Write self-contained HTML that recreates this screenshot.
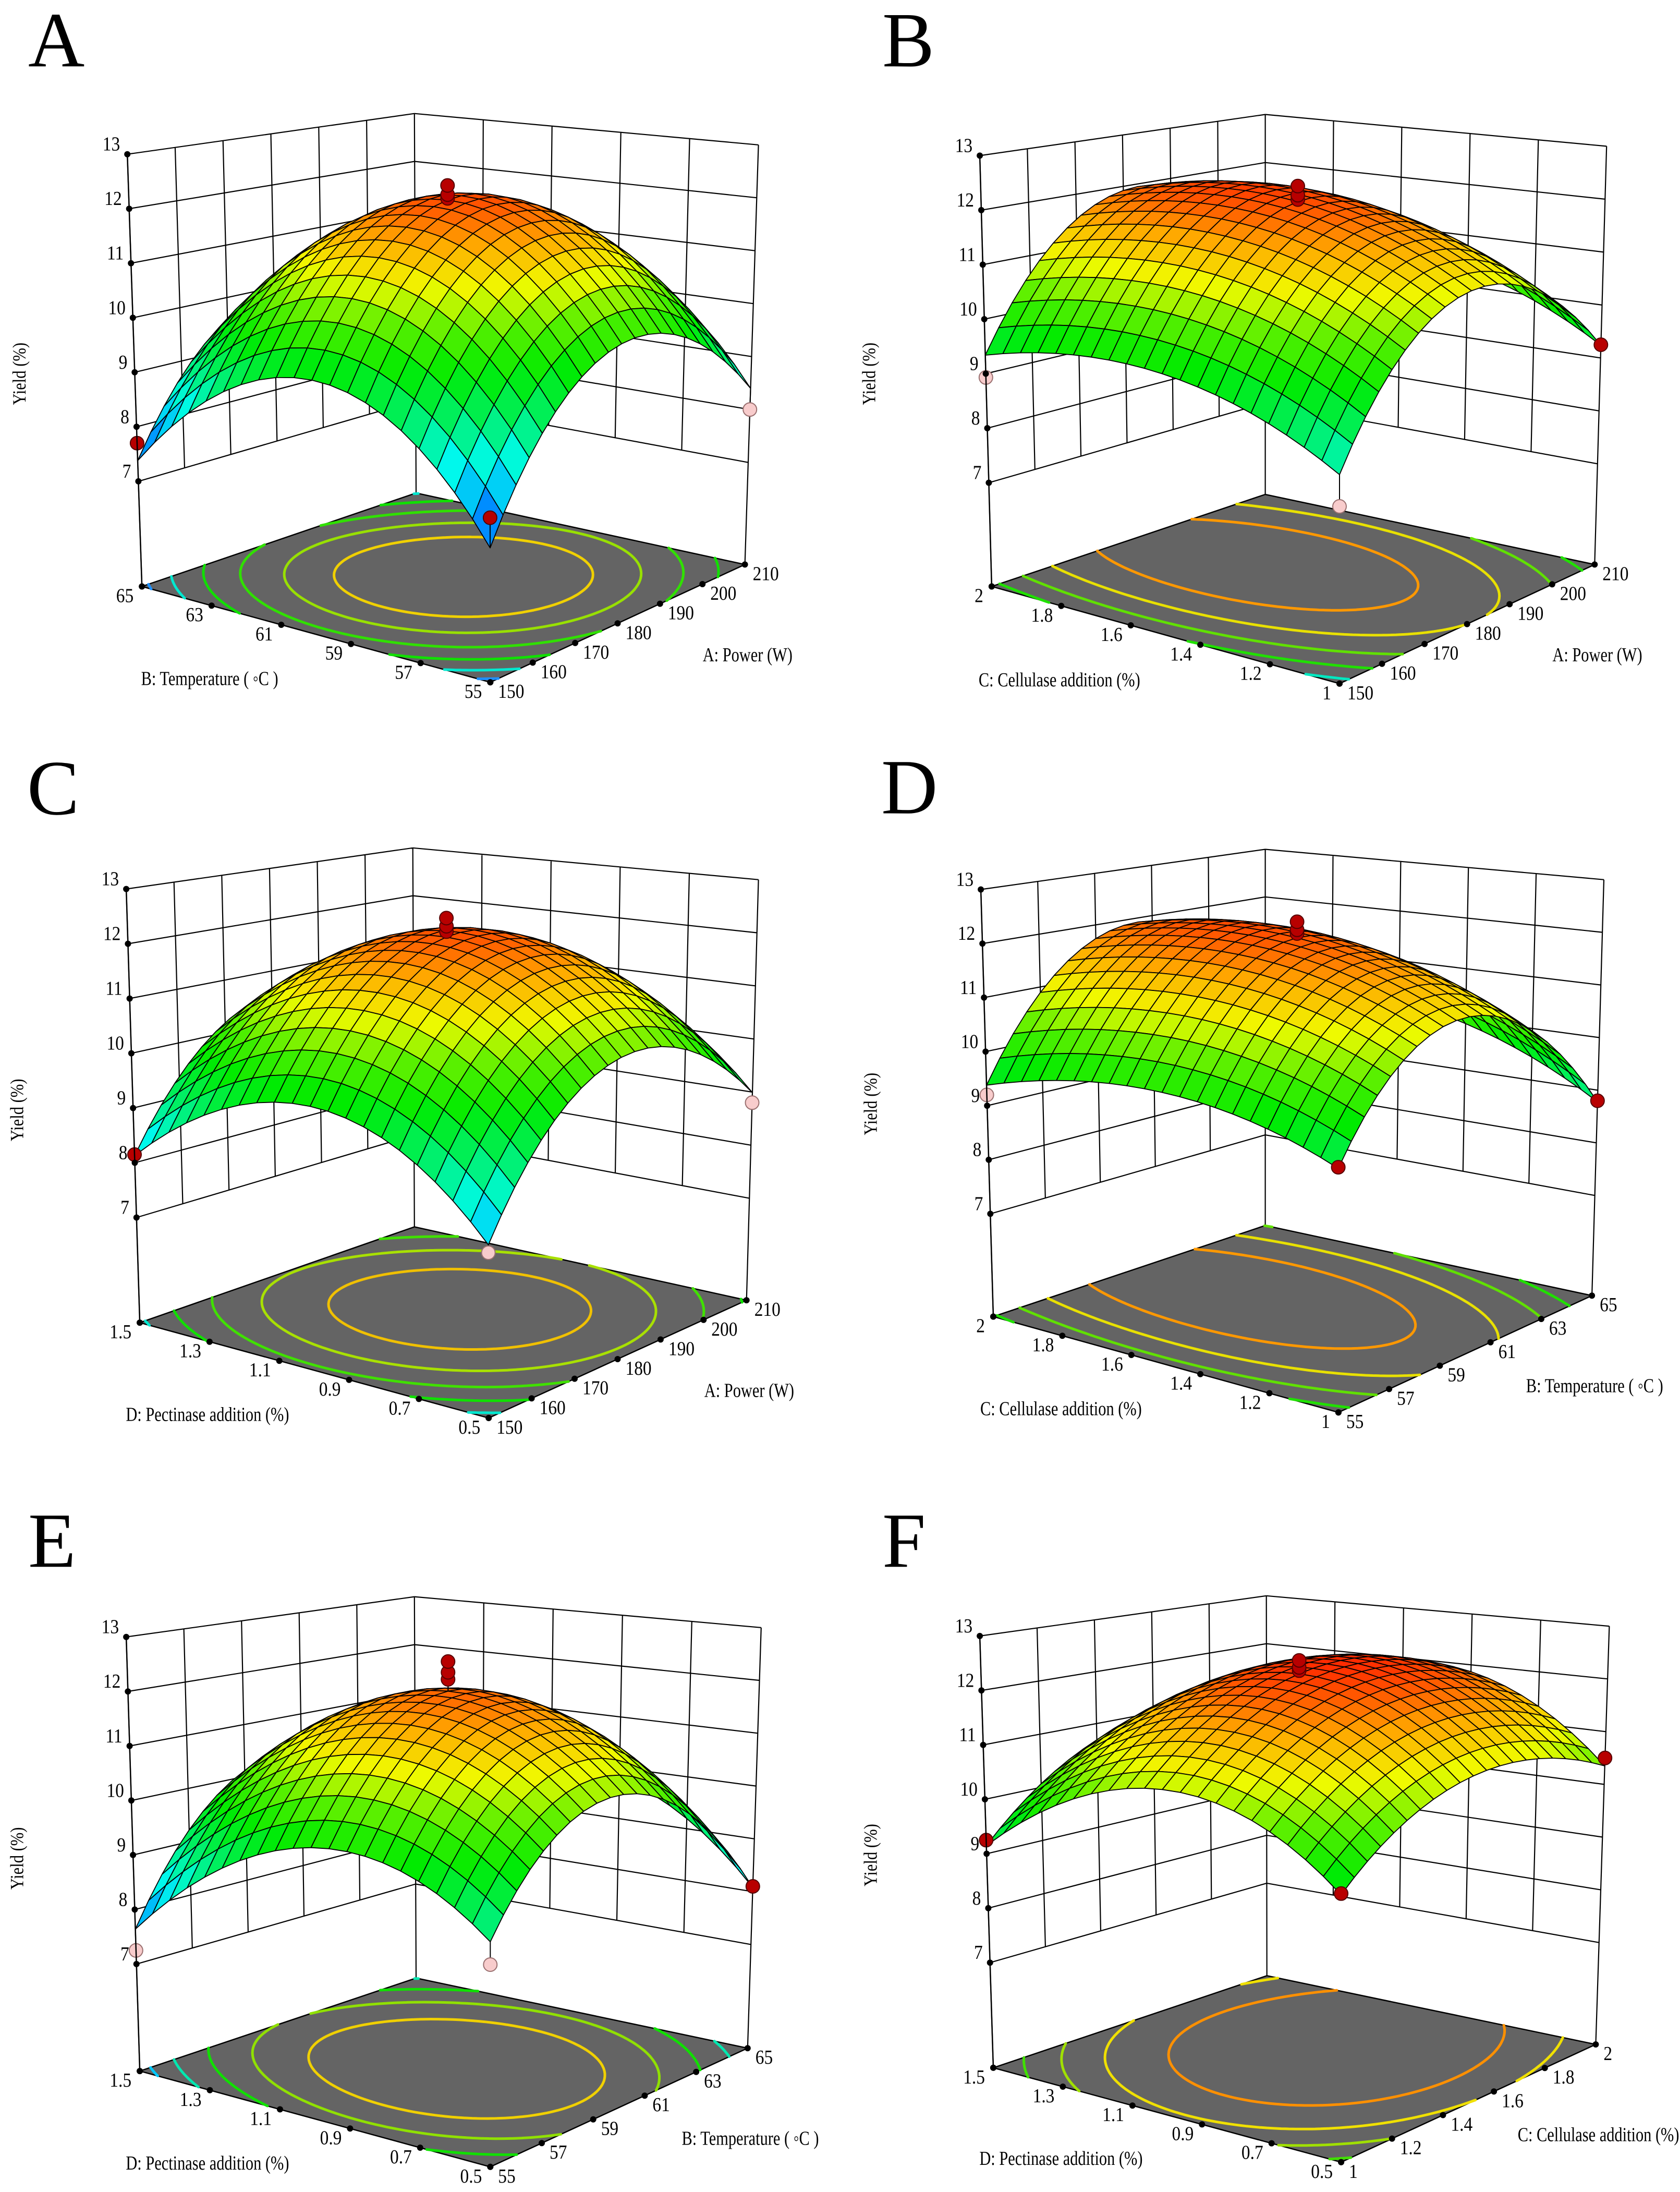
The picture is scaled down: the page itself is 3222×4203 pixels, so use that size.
<!DOCTYPE html>
<html><head><meta charset="utf-8">
<style>
html,body{margin:0;padding:0;background:#fff;}
svg{display:block;}
text{font-family:"Liberation Serif",serif;fill:#000;}
</style></head>
<body>
<svg id="chart" xmlns="http://www.w3.org/2000/svg" width="3222" height="4203" viewBox="0 0 3222 4203">
<rect x="0" y="0" width="3222" height="4203" fill="#fff"/>
</svg>
<script>
// ---- data (coded quadratic response-surface model: b0, bS, bT, bST, bSS, bTT) ----
const panelIds=['A','B','C','D','E','F'];
const coefA=[12.15,0.49,-0.02,-0.06,-2.16,-2.16];
const coefB=[12.16,0.41,0.46,0.08,-2.09,-0.70];
const coefC=[12.10,0.53,0.10,0.00,-1.92,-1.62];
const coefD=[12.10,0.10,0.40,0.30,-2.12,-0.60];
const coefE=[12.00,0.08,-0.14,0.43,-2.15,-1.56];
const coefF=[12.30,0.60,0.00,0.19,-0.94,-1.42];
const surfaceCoefs=[coefA,coefB,coefC,coefD,coefE,coefF];
const centerRuns=[[12.42,12.25,12.18],[12.45,12.28,12.2],[12.45,12.3,12.2],[12.4,12.25,12.18],[12.55,12.35,12.22],[12.55,12.42,12.36]];
const cornerRunsL=[7.7,8.93,8.15,9.2,7.25,9.25];
const cornerRunsF=[7.8,8.05,7.8,9.2,8.4,9.55];
const cornerRunsR=[8.0,9.25,8.8,8.8,8.1,10.5];
const zTicks=[7,8,9,10,11,12,13];
const sTickLabels=[['150','160','170','180','190','200','210'],['150','160','170','180','190','200','210'],['150','160','170','180','190','200','210'],['55','57','59','61','63','65'],['55','57','59','61','63','65'],['1','1.2','1.4','1.6','1.8','2']];
const tTickLabels=[['55','57','59','61','63','65'],['1','1.2','1.4','1.6','1.8','2'],['0.5','0.7','0.9','1.1','1.3','1.5'],['1','1.2','1.4','1.6','1.8','2'],['0.5','0.7','0.9','1.1','1.3','1.5'],['0.5','0.7','0.9','1.1','1.3','1.5']];
const sTitles=['A: Power (W)','A: Power (W)','A: Power (W)','B: Temperature ( \u25E6C )','B: Temperature ( \u25E6C )','C: Cellulase addition (%)'];
const tTitles=['B: Temperature ( \u25E6C )','C: Cellulase addition (%)','D: Pectinase addition (%)','C: Cellulase addition (%)','D: Pectinase addition (%)','D: Pectinase addition (%)'];
const contourLevels=[[7.6,8.3,9.1,9.9,10.7,11.4],[8.9,9.6,10.3,11.0,11.7],[8.3,9.1,9.9,10.7,11.5],[8.8,9.5,10.2,10.9,11.6],[8.0,8.7,9.5,10.3,11.1],[9.7,10.3,10.9,11.6]];

// ---- layout / style ----
const contourColors=[['#1e90ff','#00e8d0','#10e000','#30e000','#98e000','#f0d000'],['#00e8c0','#20e000','#60e000','#e8e000','#ff9800'],['#00e8d0','#10e000','#40e000','#a8e000','#f0c000'],['#00e8c0','#20e000','#60e000','#e8e000','#ff9800'],['#00c8ff','#00e8b0','#10e000','#90e000','#f0d000'],['#40e000','#a0e000','#f0e000','#ff9000']];
const KX=1.039, KY=0.896;
const geom=[
 {off:[0,0],Lf:[262,1255],Ff:[905,1460],Rf:[1375,1208],Bf:[768,1055],Lt:[235,330],Bt:[765,243],Rt:[1400,310],y7:1030,letter:[52,142]},
 {off:[1611,0],Lf:[280,1255],Ff:[922,1463],Rf:[1393,1208],Bf:[785,1058],Lt:[258,333],Bt:[785,245],Rt:[1415,313],y7:1033,letter:[78,142]},
 {off:[0,1400],Lf:[258,1268],Ff:[902,1472],Rf:[1378,1220],Bf:[765,1063],Lt:[233,340],Bt:[762,252],Rt:[1400,320],y7:1043,letter:[50,180]},
 {off:[1611,1400],Lf:[283,1255],Ff:[920,1460],Rf:[1388,1210],Bf:[785,1060],Lt:[260,341],Bt:[785,255],Rt:[1410,320],y7:1035,letter:[76,178]},
 {off:[0,2800],Lf:[258,1307],Ff:[905,1512],Rf:[1380,1258],Bf:[768,1108],Lt:[233,378],Bt:[765,292],Rt:[1405,358],y7:1078,letter:[52,228]},
 {off:[1611,2800],Lf:[283,1300],Ff:[925,1502],Rf:[1395,1250],Bf:[788,1103],Lt:[258,376],Bt:[787,290],Rt:[1420,355],y7:1075,letter:[78,228]}
];
const colorStops=[[7.3,[0,60,255]],[7.9,[0,170,255]],[8.5,[0,250,235]],[9.1,[0,240,110]],[9.8,[0,235,0]],[10.4,[90,240,0]],[11.0,[240,250,0]],[11.6,[255,170,0]],[12.0,[255,100,0]],[12.4,[255,40,0]]];

const NS='http://www.w3.org/2000/svg';
const svg=document.getElementById('chart');
function mk(tag,parent){const e=document.createElementNS(NS,tag);parent.appendChild(e);return e;}
function f2(v){return v.toFixed(1);}
function txt(parent,x,y,str,size,anchor,sx){
  const t=mk('text',parent);
  t.setAttribute('x','0');t.setAttribute('y','0');
  t.setAttribute('transform','translate('+f2(x)+' '+f2(y)+') scale('+sx+' 1)');
  t.setAttribute('font-size',size);
  if(anchor) t.setAttribute('text-anchor',anchor);
  t.textContent=str;return t;
}
function colorFor(z){
  if(z<=colorStops[0][0]) return 'rgb('+colorStops[0][1].join(',')+')';
  for(let i=1;i<colorStops.length;i++){
    if(z<=colorStops[i][0]){const a=colorStops[i-1],b=colorStops[i];const f=(z-a[0])/(b[0]-a[0]);
      return 'rgb('+[0,1,2].map(k=>Math.round(a[1][k]+f*(b[1][k]-a[1][k]))).join(',')+')';}
  }
  return 'rgb('+colorStops[colorStops.length-1][1].join(',')+')';
}
function model(c,s,t){return c[0]+c[1]*s+c[2]*t+c[3]*s*t+c[4]*s*s+c[5]*t*t;}

panelIds.forEach((pid,pi)=>{
  const g=geom[pi];const c=surfaceCoefs[pi];
  const T=p=>[g.off[0]+p[0]*KX,g.off[1]+p[1]*KY];
  const Lf=T(g.Lf),Ff=T(g.Ff),Rf=T(g.Rf),Bf=T(g.Bf),Lt=T(g.Lt),Bt=T(g.Bt),Rt=T(g.Rt);
  const y7=g.off[1]+g.y7*KY;
  const frac=(Lf[1]-y7)/(Lf[1]-Lt[1]);
  const zf=(7-frac*13)/(1-frac);
  const HL=Lf[1]-Lt[1],HR=Rf[1]-Rt[1],HB=Bf[1]-Bt[1];
  const Ft=[Ff[0]+((Lt[0]-Lf[0])+(Rt[0]-Rf[0]))/2,Ff[1]-HL*HR/HB];
  function bil(P0,P1,P2,P3,u,v){
    return [P0[0]*(1-u)*(1-v)+P1[0]*u*(1-v)+P2[0]*(1-u)*v+P3[0]*u*v,
            P0[1]*(1-u)*(1-v)+P1[1]*u*(1-v)+P2[1]*(1-u)*v+P3[1]*u*v];
  }
  function proj(s,t,z){
    const u=(s+1)/2,v=(t+1)/2;
    const a=bil(Ff,Rf,Lf,Bf,u,v),b=bil(Ft,Rt,Lt,Bt,u,v);
    const h=(z-zf)/(13-zf);
    return [a[0]+h*(b[0]-a[0]),a[1]+h*(b[1]-a[1])];
  }
  const grp=mk('g',svg);
  
  

  const lt=mk('text',grp);
  
  
  lt.setAttribute('x',f2(g.off[0]+g.letter[0]*KX));lt.setAttribute('y',f2(g.off[1]+g.letter[1]*KY));
  lt.setAttribute('font-size','150');lt.textContent=pid;

  const walls=mk('g',grp);
  
  
  let d='';
  const line=(p,q)=>{d+='M'+f2(p[0])+' '+f2(p[1])+'L'+f2(q[0])+' '+f2(q[1]);};
  zTicks.forEach(z=>{line(proj(-1,1,z),proj(1,1,z));line(proj(1,1,z),proj(1,-1,z));});
  const nS=sTickLabels[pi].length-1,nT=tTickLabels[pi].length-1;
  for(let i=1;i<nS;i++){const s=-1+2*i/nS;line(proj(s,1,7),proj(s,1,13));}
  for(let i=1;i<nT;i++){const t=-1+2*i/nT;line(proj(1,t,7),proj(1,t,13));}
  line(proj(-1,1,zf),proj(-1,1,13));line(proj(1,1,zf),proj(1,1,13));line(proj(1,-1,zf),proj(1,-1,13));
  const wp=mk('path',walls);wp.setAttribute('d',d);wp.setAttribute('stroke','#000');wp.setAttribute('stroke-width','2.2');wp.setAttribute('fill','none');

  const fl=mk('polygon',grp);
  
  
  fl.setAttribute('points',[Lf,Ff,Rf,Bf].map(p=>f2(p[0])+','+f2(p[1])).join(' '));
  fl.setAttribute('fill','#646464');fl.setAttribute('stroke','#000');fl.setAttribute('stroke-width','2.5');

  const N=70;
  contourLevels[pi].forEach((lev,li)=>{
    let cd='';
    for(let i=0;i<N;i++)for(let j=0;j<N;j++){
      const s0=-1+2*i/N,s1=-1+2*(i+1)/N,t0=-1+2*j/N,t1=-1+2*(j+1)/N;
      const cs=[[s0,t0],[s1,t0],[s1,t1],[s0,t1]];
      const vs=cs.map(q=>model(c,q[0],q[1])-lev);
      const pts=[];
      for(let k=0;k<4;k++){const a=vs[k],b=vs[(k+1)%4];
        if((a<0)!==(b<0)){const f=a/(a-b);const A=cs[k],B=cs[(k+1)%4];pts.push([A[0]+f*(B[0]-A[0]),A[1]+f*(B[1]-A[1])]);}}
      for(let k=0;k+1<pts.length;k+=2){const p=proj(pts[k][0],pts[k][1],zf),q=proj(pts[k+1][0],pts[k+1][1],zf);
        cd+='M'+f2(p[0])+' '+f2(p[1])+'L'+f2(q[0])+' '+f2(q[1]);}
    }
    const cp=mk('path',grp);
    
    
    cp.setAttribute('d',cd);cp.setAttribute('stroke',contourColors[pi][li]);cp.setAttribute('stroke-width','5');cp.setAttribute('fill','none');cp.setAttribute('stroke-linecap','round');
  });

  const sg=mk('g',grp);
  
  
  const M=20;const cells=[];
  for(let i=0;i<M;i++)for(let j=0;j<M;j++){
    const s0=-1+2*i/M,s1=-1+2*(i+1)/M,t0=-1+2*j/M,t1=-1+2*(j+1)/M;
    cells.push({s0,s1,t0,t1,key:(s0+s1+t0+t1)/2});
  }
  cells.sort((a,b)=>b.key-a.key);
  cells.forEach(q=>{
    const cz=[[q.s0,q.t0],[q.s1,q.t0],[q.s1,q.t1],[q.s0,q.t1]].map(p=>[p[0],p[1],model(c,p[0],p[1])]);
    const avg=cz.reduce((a,p)=>a+p[2],0)/4;
    const pp=cz.map(p=>proj(p[0],p[1],p[2]));
    const poly=mk('polygon',sg);
    
    
    poly.setAttribute('points',pp.map(p=>f2(p[0])+','+f2(p[1])).join(' '));
    poly.setAttribute('fill',colorFor(avg));poly.setAttribute('stroke','#000');poly.setAttribute('stroke-width','1.8');poly.setAttribute('stroke-linejoin','round');
  });

  const pts=[];
  centerRuns[pi].forEach(v=>pts.push([0,0,v]));
  pts.push([-1,1,cornerRunsL[pi]]);pts.push([-1,-1,cornerRunsF[pi]]);pts.push([1,-1,cornerRunsR[pi]]);
  pts.sort((a,b)=>a[2]-b[2]);
  pts.forEach(p=>{
    const zs=model(c,p[0],p[1]);const a=proj(p[0],p[1],p[2]),b=proj(p[0],p[1],zs);
    const st=mk('line',grp);
    
    
    st.setAttribute('x1',f2(a[0]));st.setAttribute('y1',f2(a[1]));st.setAttribute('x2',f2(b[0]));st.setAttribute('y2',f2(b[1]));
    st.setAttribute('stroke','#000');st.setAttribute('stroke-width','2');
  });
  pts.forEach(p=>{
    const zs=model(c,p[0],p[1]);const a=proj(p[0],p[1],p[2]);
    const ci=mk('circle',grp);
    
    
    ci.setAttribute('cx',f2(a[0]));ci.setAttribute('cy',f2(a[1]));ci.setAttribute('r','13');
    const above=p[2]>=zs-0.05;
    ci.setAttribute('fill',above?'#b80000':'#f8cccc');ci.setAttribute('stroke',above?'#500':'#9a7070');ci.setAttribute('stroke-width','2');
  });

  let ad='';
  const aline=(p,q)=>{ad+='M'+f2(p[0])+' '+f2(p[1])+'L'+f2(q[0])+' '+f2(q[1]);};
  aline(proj(-1,1,zf),proj(-1,1,13));
  const ap=mk('path',grp);ap.setAttribute('d',ad);ap.setAttribute('stroke','#000');ap.setAttribute('stroke-width','2.5');ap.setAttribute('fill','none');

  const fs='38', sxT=0.88;
  zTicks.forEach(z=>{
    const p=proj(-1,1,z);
    const dt=mk('circle',grp);
    
    
    dt.setAttribute('cx',f2(p[0]));dt.setAttribute('cy',f2(p[1]));dt.setAttribute('r','6');
    const tx=txt(grp,p[0]-14,p[1]-7,String(z),fs,'end',sxT);
    
    
  });
  const lc=mk('circle',grp);lc.setAttribute('cx',f2(Lf[0]));lc.setAttribute('cy',f2(Lf[1]));lc.setAttribute('r','6');
  tTickLabels[pi].forEach((lab,i)=>{
    const t=-1+2*i/nT;const p=proj(-1,t,zf);
    const dt=mk('circle',grp);
    
    
    dt.setAttribute('cx',f2(p[0]));dt.setAttribute('cy',f2(p[1]));dt.setAttribute('r','6');
    const tx=txt(grp,p[0]-16,p[1]+30,lab,fs,'end',sxT);
    
    
  });
  sTickLabels[pi].forEach((lab,i)=>{
    const s=-1+2*i/nS;const p=proj(s,-1,zf);
    const dt=mk('circle',grp);
    
    
    dt.setAttribute('cx',f2(p[0]));dt.setAttribute('cy',f2(p[1]));dt.setAttribute('r','6');
    const tx=txt(grp,p[0]+15,p[1]+30,lab,fs,'start',sxT);
    
    
  });
  const tt=txt(grp,Lf[0]+125*KX,Ff[1]+6*KY,tTitles[pi],'38','middle',0.8);
  
  
  const st2=txt(grp,Rf[0]+5*KX,Rf[1]+207*KY,sTitles[pi],'38','middle',0.8);
  
  
  const yx=Lf[0]-215*KX,yy=Lf[1]-455*KY;
  const yt=mk('text',grp);
  
  
  yt.setAttribute('x','0');yt.setAttribute('y','0');yt.setAttribute('text-anchor','middle');yt.setAttribute('font-size','36');
  yt.setAttribute('transform','translate('+f2(yx)+' '+f2(yy)+') rotate(-90) scale(0.85 1)');
  yt.textContent='Yield (%)';
});
</script>
</body></html>
